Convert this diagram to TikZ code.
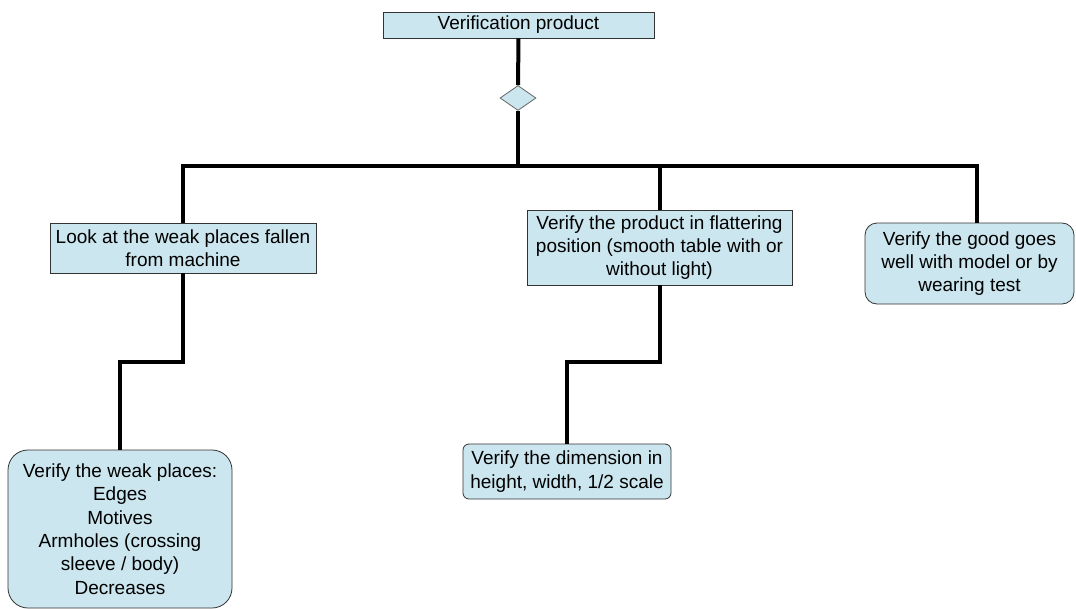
\documentclass[tikz,border=0pt]{standalone}
\usepackage{fontspec}
\setmainfont{Liberation Sans}
\usepackage{tikz}
\usetikzlibrary{arrows.meta,shapes,positioning,calc}
\definecolor{paleblue}{RGB}{203,230,238}
\tikzset{
    stage/.style={draw=black!80, line width=0.8pt, fill=paleblue, inner sep=0pt, align=center,
        font=\fontsize{19}{23.3}\selectfont},
    soft/.style={stage, rounded corners=#1},
    choice/.style={draw=black!60, line width=0.8pt, fill=paleblue, diamond, inner sep=0pt,
        minimum width=36pt, minimum height=25pt},
    link/.style={line width=4pt, black}
}

\begin{document}
\begin{tikzpicture}[x=1pt, y=-1pt]
            \useasboundingbox (0,0) rectangle (1076,610);
            \node[stage, minimum width=271pt, minimum height=26pt] (prod) at (518.5,25) {Verification product};
            \node[choice] (dia) at (518,98) {};
            \coordinate (hub) at (518,166);
            \coordinate (rjoin) at (977,166);
            \node[stage, minimum width=266pt, minimum height=50pt] (look) at (183,248)
                {Look at the weak places fallen\\from machine};
            \node[stage, minimum width=265pt, minimum height=75pt] (flat) at (659.5,247.5)
                {Verify the product in flattering\\position (smooth table with or\\without light)};
            \node[soft=12pt, minimum width=209pt, minimum height=81pt] (good) at (969.5,263.5)
                {Verify the good goes\\well with model or by\\wearing test};
            \node[soft=20pt, minimum width=224pt, minimum height=158pt] (weak) at (120,529)
                {Verify the weak places:\\Edges\\Motives\\Armholes (crossing\\sleeve / body)\\Decreases};
            \node[soft=6pt, minimum width=208pt, minimum height=55pt] (dim) at (567,471.5)
                {Verify the dimension in\\height, width, 1/2 scale};
            \draw[link] (prod) -- (dia);
            \draw[link] (dia) -- (hub);
            \draw[link] (look.north) |- (rjoin) -- (rjoin |- good.north);
            \draw[link] (flat.north) -- (flat.north |- hub);
            \draw[link] (look.south) -- ++(0,89) -| (weak.north);
            \draw[link] (flat.south) -- ++(0,77) -| (dim.north);
        \end{tikzpicture}
\end{document}
